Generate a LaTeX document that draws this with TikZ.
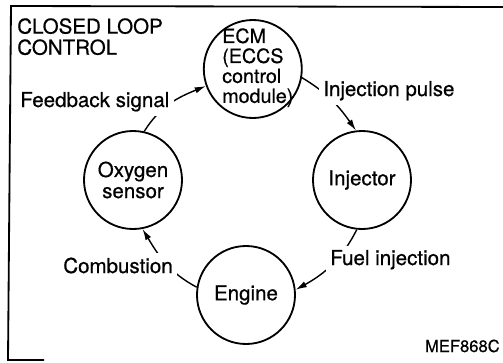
\documentclass[tikz,border=0pt]{standalone}
\usepackage{fontspec}
\setmainfont{TeX Gyre Heros}[FakeBold=0.6]
\usetikzlibrary{arrows.meta}

\begin{document}
\begin{tikzpicture}[
  font=\fontsize{14.6}{15}\selectfont,
  >={Latex[length=2.8mm,width=1.6mm]},
  unit/.style={
    circle, draw=black, line width=1.3pt, minimum size=2.45cm,
    inner sep=0pt, align=center
  },
  tag/.style={fill=white, inner sep=3pt, anchor=base west},
  flow/.style={->, line width=1pt, draw=black},
  frame/.style={line width=1.3pt, draw=black},
]
\useasboundingbox (0,0) rectangle (12.575,9.05);

% open border of the figure (top and left side only)
\draw[frame] (12.575,8.875) -- (0.275,8.9) -- (0.2,0.05) -- (1.1,0.05);

\node[anchor=north west, inner sep=0pt, align=left] (title) at (0.425,8.6)
  {CLOSED LOOP\\CONTROL};

\node[unit] (ecm) at (6.32,7.325) {};
\node[anchor=north west, inner sep=0pt, align=left,
  font=\fontsize{14}{14.2}\selectfont] (ecmtext) at (5.55,8.35)
  {ECM\\(ECCS\\control\\module)};
\node[unit] (inj) at (9.05,4.55) {Injector};
\node[unit] (eng) at (6.15,1.675) {Engine};
\node[unit] (oxy) at (3.325,4.55) {Oxygen\\sensor};

\draw[flow] (oxy.77) to[out=58,in=202] (ecm.200);
\draw[flow] (ecm.-10) to[out=-31,in=125] (inj.97);
\draw[flow] (inj.264) to[out=243,in=29] (eng.6);
\draw[flow] (eng.171) to[out=152,in=301] (oxy.281);

% labels sit on the loop and break the lines
\node[tag] (fb) at (0.395,6.375) {Feedback signal};
\node[tag] (pulse) at (7.97,6.65) {Injection pulse};
\node[tag] (fuel) at (8.145,2.425) {Fuel injection};
\node[tag] (comb) at (1.47,2.225) {Combustion};

\node[anchor=base east, inner sep=0pt, font=\fontsize{11.8}{13}\selectfont]
  (code) at (12.5,0.25) {MEF868C};

\end{tikzpicture}
\end{document}
